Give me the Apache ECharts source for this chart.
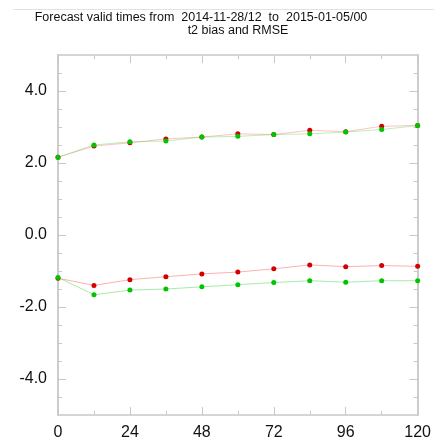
<!DOCTYPE html>
<html>
<head>
<meta charset="utf-8">
<script src="https://cdn.jsdelivr.net/npm/echarts@6/dist/echarts.min.js"></script>
<style>html,body{margin:0;padding:0;background:#fff}#c{width:434px;height:445px}</style>
</head>
<body>
<div id="c"></div>
<script>
const hours = [0, 12, 24, 36, 48, 60, 72, 84, 96, 108, 120];
const rmseRed   = [2.16, 2.47, 2.56, 2.67, 2.72, 2.81, 2.79, 2.91, 2.87, 3.02, 3.04];
const rmseGreen = [2.16, 2.50, 2.59, 2.61, 2.72, 2.74, 2.79, 2.81, 2.86, 2.93, 3.04];
const biasRed   = [-1.20, -1.40, -1.24, -1.16, -1.08, -1.03, -0.94, -0.83, -0.88, -0.85, -0.87];
const biasGreen = [-1.18, -1.66, -1.53, -1.50, -1.44, -1.38, -1.32, -1.27, -1.31, -1.27, -1.27];
const yLabels = [-4, -2, 0, 2, 4];
const yMinor = [-4.5,-3.5,-3,-2.5,-1.5,-1,-0.5,0.5,1,1.5,2.5,3,3.5,4.5];
const titleLine1 = 'Forecast valid times from  2014-11-28/12  to  2015-01-05/00';
const titleLine2 = 't2 bias and RMSE';

const FONT = '"Liberation Sans", Arial, Helvetica, sans-serif';
const frame = '#c8c8c8';
const pair = (xs, ys) => xs.map((x, i) => [x, ys[i]]);

function yAx(pos, ticks, len, labels) {
  return {
    type: 'value', position: pos, min: -5, max: 5, interval: 0.5,
    axisLine: { show: true, lineStyle: { color: frame, width: 1.5 } },
    splitLine: { show: false },
    axisTick: { show: true, inside: true, length: len, customValues: ticks, lineStyle: { color: frame, width: 1 } },
    axisLabel: labels ? {
      show: true, customValues: yLabels, fontSize: 16, color: '#111', fontFamily: FONT, margin: 11,
      formatter: v => v.toFixed(1)
    } : { show: false }
  };
}
function xAx(pos, labels) {
  return {
    type: 'value', position: pos, min: 0, max: 120, interval: 24,
    axisLine: { show: true, onZero: false, lineStyle: { color: frame, width: 1.5 } },
    splitLine: { show: false },
    axisTick: { show: true, inside: true, length: 8, lineStyle: { color: frame, width: 1 } },
    minorTick: { show: true, splitNumber: 2, length: 4, lineStyle: { color: frame, width: 1 } },
    axisLabel: labels ? { show: true, fontSize: 16, color: '#111', fontFamily: FONT, margin: 10 } : { show: false }
  };
}
function ser(data, lineColor, dotColor, z) {
  return {
    type: 'line', data: data, xAxisIndex: 0, yAxisIndex: 0, z: z,
    symbol: 'circle', symbolSize: 5, showSymbol: true,
    lineStyle: { color: lineColor, width: 1 },
    itemStyle: { color: dotColor, borderColor: dotColor, borderWidth: 0 },
    animation: false, silent: true
  };
}
const tStyle = { fontSize: 12.5, fontWeight: 'normal', fontFamily: FONT, color: '#111' };

const chart = echarts.init(document.getElementById('c'), null, { renderer: 'canvas' });
chart.setOption({
  animation: false,
  backgroundColor: '#fff',
  title: [
    { text: titleLine1, left: 201, top: 11, padding: 0, textAlign: 'center', textStyle: tStyle },
    { text: titleLine2, left: 238, top: 24, padding: 0, textAlign: 'center', textStyle: tStyle }
  ],
  grid: { left: 58, right: 14, top: 55, bottom: 30, containLabel: false },
  xAxis: [xAx('bottom', true), xAx('top', false)],
  yAxis: [
    yAx('left', yMinor, 4, true),
    yAx('left', yLabels, 8, false),
    yAx('right', yMinor, 4, false),
    yAx('right', yLabels, 8, false)
  ],
  series: [
    ser(pair(hours, rmseRed), 'rgba(255,80,80,0.35)', '#d40000', 3),
    ser(pair(hours, biasRed), 'rgba(255,80,80,0.45)', '#d40000', 3),
    ser(pair(hours, rmseGreen), 'rgba(60,210,60,0.35)', '#00c400', 4),
    ser(pair(hours, biasGreen), 'rgba(60,210,60,0.45)', '#00c400', 4)
  ],
  graphic: [
    { type: 'line', shape: { x1: 13, y1: 9.5, x2: 434, y2: 9.5 }, style: { stroke: '#e2e2e2', lineWidth: 1 } }
  ]
});
</script>
</body>
</html>
